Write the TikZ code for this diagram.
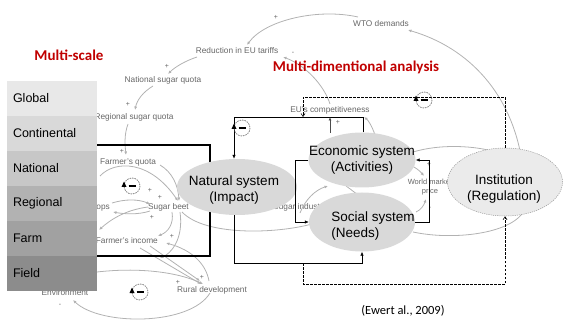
\documentclass[tikz,border=0pt]{standalone}
\usepackage{fontspec}
\setmainfont{Liberation Sans}
\newfontfamily\calfont{Carlito}
\usetikzlibrary{arrows.meta,shapes.geometric}
\definecolor{redt}{RGB}{192,0,0}
\begin{document}
\begin{tikzpicture}[x=1pt,y=-1pt,
  bg/.style={draw=black!30, line width=0.8pt},
  bga/.style={bg, -{Latex[length=3.5pt,width=3pt]}},
  gt/.style={text=black!60, font=\fontsize{8.3}{9.5}\selectfont, inner sep=1pt},
  pm/.style={text=black!60, font=\fontsize{7}{7}\selectfont, inner sep=0pt},
  scalebox/.style={minimum width=90pt, minimum height=35pt, anchor=north west, inner xsep=6pt, inner ysep=0pt, text width=78pt, align=left, font=\fontsize{12.5}{14}\selectfont, outer sep=0pt},
  sys/.style={ellipse, fill=black!15, inner sep=0pt},
  systext/.style={font=\fontsize{13.5}{16.5}\selectfont, align=center, inner sep=0pt},
  conn/.style={draw=black, line width=0.6pt},
  arr/.style={conn, -{Latex[length=4pt,width=3.5pt]}},
  darr/.style={conn, dashed, dash pattern=on 2.5pt off 1.5pt, -{Straight Barb[length=3pt,width=4pt]}},
  redtitle/.style={text=redt, font=\calfont\bfseries\fontsize{15}{17}\selectfont, inner sep=0pt},
  loopm/.pic={
    \draw[black!55, line width=0.7pt, dash pattern=on 1.5pt off 1pt] (0,0) circle (8);
    \draw[black, line width=1.3pt] (-3.5,0) -- (3.5,0);
    \fill[black] (-8,-4.5) -- (-10.5,1) -- (-5.5,1) -- cycle;
  }
]
\useasboundingbox (0,0) rectangle (575,320);

% ---------- faded background causal loop diagram ----------
\node[gt] (wto) at (381,24) {WTO demands};
\node[gt] (red) at (237,51) {Reduction in EU tariffs};
\node[gt] (nsq) at (163,80) {National sugar quota};
\node[gt] (rsq) at (134,117) {Regional sugar quota};
\node[gt] (fq) at (128,163) {Farmer's quota};
\node[gt, anchor=west] (sb) at (147,207) {Sugar beet};
\node[gt, anchor=east] (cr) at (111,207) {Crops};
\node[gt, anchor=east] (fi) at (159,241) {Farmer's income};
\node[gt] (rd) at (212,290) {Rural development};
\node[gt] (env) at (65,293) {Environment};
\node[gt] (euc) at (330,110) {EU's competitiveness};
\node[gt, align=center, font=\fontsize{7.5}{9.5}\selectfont] (wmp) at (430,187) {World market\\price};
\node[gt] (si) at (300,207) {Sugar industry};

% curves
\draw[bga] (358,17) .. controls (318,8) and (265,20) .. (247,45);
\draw[bga] (522,162) .. controls (512,95) and (470,48) .. (408,30);
\draw[bga] (197,57) .. controls (185,61) and (175,67) .. (168,74);
\draw[bga] (153,86) .. controls (143,92) and (137,100) .. (135,110);
\draw[bga] (128,124) .. controls (124,135) and (125,145) .. (126,155);
\draw[bga] (330,104) .. controls (324,85) and (305,65) .. (283,57);
\draw[bga] (375,135) .. controls (372,126) and (368,120) .. (364,117);
% inside farm box
\draw[bga] (160,165) .. controls (172,172) and (178,185) .. (179,201);
\draw[bga] (100,176) .. controls (115,160) and (150,160) .. (178,201);
\draw[bga] (112,203) .. controls (125,199) and (138,199) .. (150,204);
\draw[bga] (150,211) .. controls (138,215) and (124,214) .. (113,212);
\draw[bga] (172,212) .. controls (174,224) and (168,232) .. (158,236);
\draw[bga] (148,207) .. controls (125,210) and (110,220) .. (99,230);
\draw[bga] (180,212) .. controls (184,240) and (170,254) .. (160,258);
% around natural system
\draw[bg] (182,212) .. controls (205,236) and (275,234) .. (312,224);
\draw[bga] (300,213) .. controls (305,200) and (315,190) .. (328,186);
\draw[bg] (346,186) .. controls (352,190) and (356,194) .. (360,196);
% to institution / world market
\draw[bg] (413,152) .. controls (440,144) and (470,146) .. (488,150);
\draw[bg] (413,232) .. controls (450,240) and (505,235) .. (522,214);
\draw[bga] (410,165) .. controls (415,167) and (420,171) .. (424,176);
\draw[bga] (416,212) .. controls (421,210) and (424,205) .. (426,199);
% rural development loop
\draw[bga] (140,248) -- (201,284);
\draw[bga] (150,246) -- (200,281);
\draw[bga] (209,281) .. controls (206,264) and (192,250) .. (166,243);
\draw[bga] (30,290) .. controls (80,266) and (160,264) .. (203,284);
\draw[bga] (210,293) .. controls (190,326) and (100,326) .. (73,300);

% plus / minus signs
\node[pm] at (276,17) {+};
\node[pm] at (293,53) {-};
\node[pm] at (167,66) {+};
\node[pm] at (128,104) {+};
\node[pm] at (122,151) {+};
\node[pm] at (150,190) {+};
\node[pm] at (160,197) {+};
\node[pm] at (152,217) {+};
\node[pm] at (172,236) {+};
\node[pm] at (202,277) {+};
\node[pm] at (178,282) {+};
\node[pm] at (60,305) {-};
\node[pm] at (338,122) {+};
\node[pm] at (429,164) {+};
\node[pm] at (430,208) {-};

% ---------- farm box (black) ----------
\draw[line width=1.3pt] (90,145) rectangle (210,256);

% ---------- scale boxes ----------
\node[scalebox, fill=black!9] (sglobal) at (7,81) {Global};
\node[scalebox, fill=black!15] (scont) at (sglobal.south west) {Continental};
\node[scalebox, fill=black!22] (snat) at (scont.south west) {National};
\node[scalebox, fill=black!30] (sreg) at (snat.south west) {Regional};
\node[scalebox, fill=black!37] (sfarm) at (sreg.south west) {Farm};
\node[scalebox, fill=black!45] (sfield) at (sfarm.south west) {Field};

% ---------- titles ----------
\node[redtitle] (t1) at (69,55) {Multi-scale};
\node[redtitle] (t2) at (356,67) {Multi-dimentional analysis};
\node[font=\calfont\fontsize{12.5}{14}\selectfont, inner sep=0pt] (cite) at (403,311) {(Ewert al., 2009)};

% ---------- system ellipses ----------
\node[sys, minimum width=120pt, minimum height=56pt] (nat) at (237,187) {};
\node[systext] (natt) at (234,190) {Natural system\\(Impact)};
\node[sys, minimum width=107pt, minimum height=55pt] (eco) at (362,160) {};
\node[systext] (ecot) at (362,160) {Economic system\\(Activities)};
\node[sys, minimum width=106pt, minimum height=59pt] (soc) at (362,222) {};
\node[systext, align=left] (soct) at (373,226) {Social system\\(Needs)};
\node[sys, fill=black!8, draw=black!40, dash pattern=on 1.2pt off 1pt, line width=0.5pt, minimum width=115pt, minimum height=68pt] (inst) at (505,182) {};
\node[systext] (instt) at (504,189) {Institution\\(Regulation)};

% ---------- connectors ----------
\coordinate (tl) at (234,117);
\coordinate (tr) at (363,117);
\coordinate (bl) at (234,263);
\draw[arr] (tr |- eco.north) -- (tr) -- (tl) -- (tl |- nat.north);
\draw[arr] (tl |- nat.south) -- (bl) -| (soc.south);
\draw[arr] (eco.west) -- (295,160) |- (soc.west);
\draw[arr] (soc.east) -- (429,222) |- (eco.east);
\draw[bga, draw=black!70] (330,133) -- (330,117);

\coordinate (dt) at (303,97);
\coordinate (db) at (303,284);
\draw[darr] (inst.north) |- (dt) -- (303,117);
\draw[darr] (303,263) -- (db) -| (inst.south);

% ---------- loop symbols ----------
\pic at (132,186) {loopm};
\pic at (140,292) {loopm};
\pic at (242,128) {loopm};
\pic at (424,100) {loopm};
\end{tikzpicture}
\end{document}
